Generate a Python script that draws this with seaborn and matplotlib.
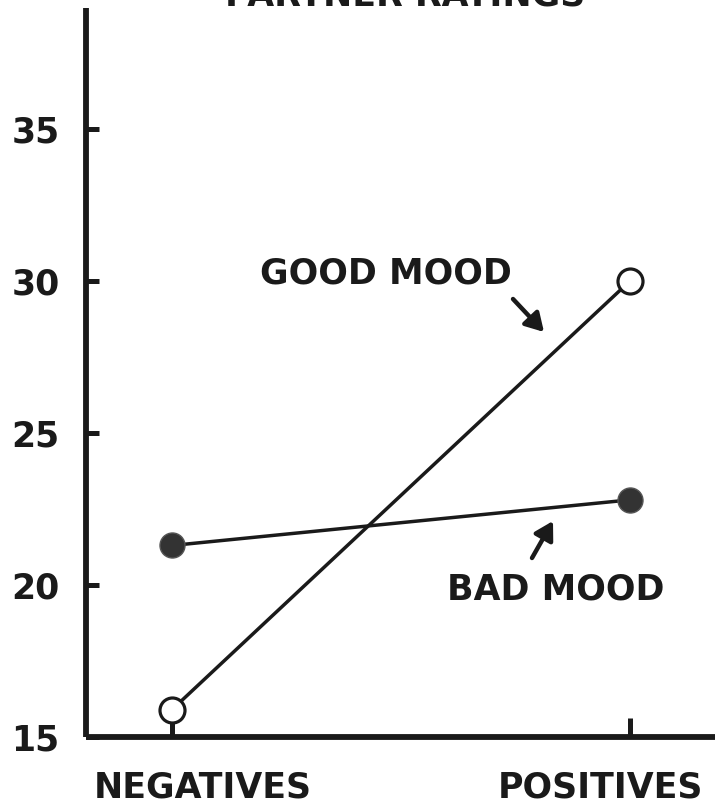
import matplotlib
matplotlib.use("Agg")
import matplotlib.pyplot as plt
import matplotlib.transforms as mtransforms
import seaborn as sns
import pandas as pd

# ---- data ----
categories = ["NEGATIVES", "POSITIVES"]
good_mood = [15.9, 30.0]
bad_mood = [21.3, 22.8]
y_ticks = [15, 20, 25, 30, 35]
title = "PARTNER RATINGS"

sns.set_theme(style="white")
plt.rcParams["font.family"] = ["DejaVu Sans"]
plt.rcParams["font.weight"] = "bold"

df = pd.DataFrame({
    "x": list(range(len(categories))) * 2,
    "rating": good_mood + bad_mood,
    "mood": ["GOOD MOOD"] * 2 + ["BAD MOOD"] * 2,
})

fig = plt.figure(figsize=(7.15, 8.10), dpi=100)
ax = fig.add_axes([86 / 715, 73 / 810, 1 - 86 / 715, (737 - 8) / 810])

ink = "#1a1a1a"
sns.lineplot(data=df[df.mood == "BAD MOOD"], x="x", y="rating", ax=ax,
             color=ink, lw=2.5, marker="o", markersize=18,
             markerfacecolor="#333333", markeredgecolor="#555555",
             markeredgewidth=1.0, zorder=4)
sns.lineplot(data=df[df.mood == "GOOD MOOD"], x="x", y="rating", ax=ax,
             color=ink, lw=2.5, marker="o", markersize=18,
             markerfacecolor="white", markeredgecolor=ink,
             markeredgewidth=2.3, zorder=5)

ax.set_xlim((86 - 172) / 458, (715 - 172) / 458)
ax.set_ylim(15, 15 + (737 - 8) / 30.4)

for side in ["top", "right"]:
    ax.spines[side].set_visible(False)
for side in ["left", "bottom"]:
    ax.spines[side].set_color(ink)
    ax.spines[side].set_linewidth(4.2)
    ax.spines[side].set_capstyle("butt")

ax.set_yticks(y_ticks)
ax.set_yticklabels([str(v) for v in y_ticks])
ax.set_xticks(range(len(categories)))
ax.set_xticklabels(categories)
ax.tick_params(axis="y", which="major", left=True, direction="in", length=9,
               width=3.6, color=ink, pad=19, labelsize=25, labelcolor=ink)
ax.tick_params(axis="x", which="major", bottom=True, direction="in", length=14,
               width=3.6, color=ink, pad=24, labelsize=25, labelcolor=ink)
# shift category labels like the original
offsets = [31, -30]
for lab, off in zip(ax.get_xticklabels(), offsets):
    lab.set_transform(lab.get_transform() +
                      mtransforms.ScaledTranslation(off / 100, 0, fig.dpi_scale_trans))
ax.set_xlabel("")
ax.set_ylabel("")
ax.grid(False)
if ax.get_legend():
    ax.get_legend().remove()

def px(x, y):
    return ((x - 172) / 458, 15 + (737 - y) / 30.4)

# labels with arrows
ax.text(*px(260, 283), "GOOD MOOD", fontsize=25, color=ink, ha="left",
        va="baseline")
ax.text(*px(447, 600), "BAD MOOD", fontsize=25, color=ink, ha="left",
        va="baseline")
arrow_kw = dict(arrowstyle="-|>,head_length=0.6,head_width=0.35", color=ink,
                lw=3.2, mutation_scale=18, shrinkA=0, shrinkB=0)
ax.annotate("", xy=px(544, 332), xytext=px(513, 299), arrowprops=arrow_kw)
ax.annotate("", xy=px(553, 521), xytext=px(532, 558), arrowprops=arrow_kw)

# title, cut by the top edge as in the original scan
fig.text(405 / 715, (810 - 5) / 810, title, fontsize=25, color=ink,
         ha="center", va="baseline")

fig.savefig("out.png", dpi=100, facecolor="white")
